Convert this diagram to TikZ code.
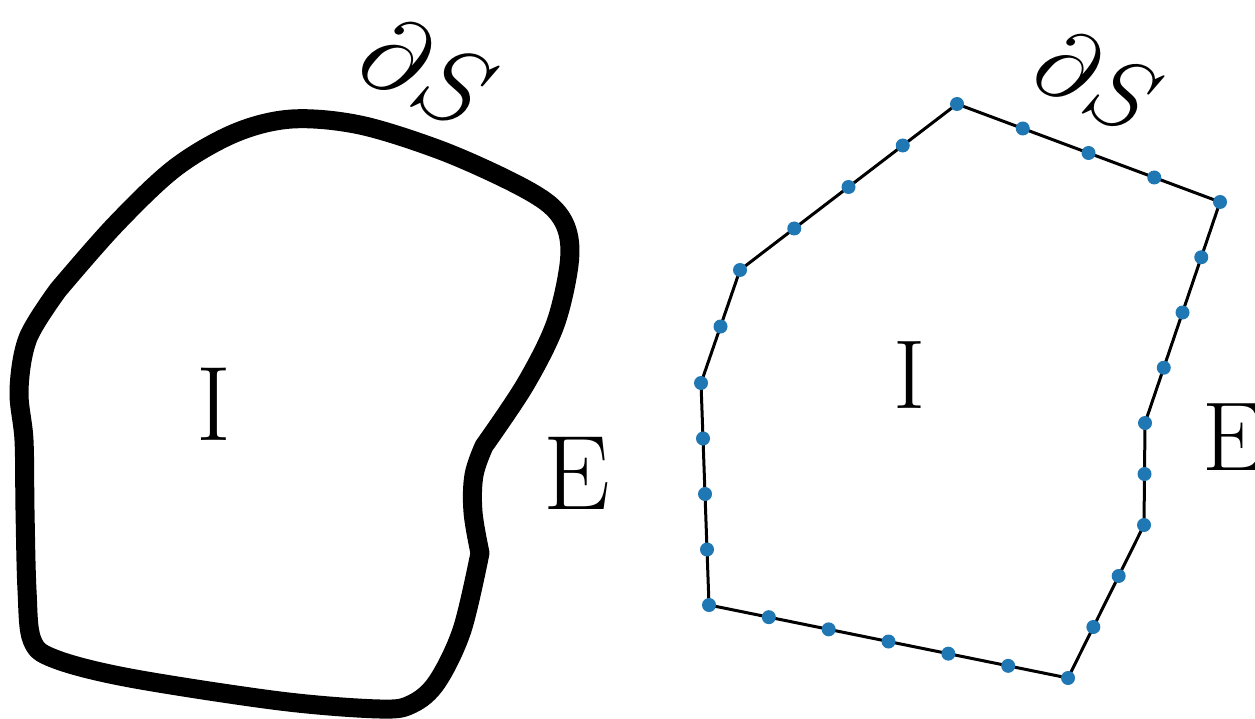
\documentclass[tikz,border=0pt]{standalone}
\usepackage{fix-cm}
\usetikzlibrary{calc}
\definecolor{dotblue}{HTML}{1F77B4}
\tikzset{
  blob/.style={line width=19pt, line join=round, line cap=round},
  poly/.style={line width=3pt, line join=round},
  sdot/.style={circle, fill=dotblue, inner sep=0pt, minimum size=14pt},
  bigtext/.style={inner sep=0pt, font=\fontsize{106}{106}\selectfont},
  midtext/.style={inner sep=0pt, font=\fontsize{98}{98}\selectfont}
}
\begin{document}
\begin{tikzpicture}[x=1pt,y=-1pt]
\useasboundingbox (0,0) rectangle (1255,719);
% left smooth boundary
\draw[blob]
  plot[smooth, tension=0.55] coordinates {(58,290) (115,225) (175,168) (235,133) (292,119) (360,125) (440,150) (510,181) (550,205) (567,230) (569,265) (555,325) (525,385) (484,446)}
  -- plot[smooth, tension=0.6] coordinates {(484,446) (474,475) (473,512) (480,553)}
  -- plot[smooth, tension=0.55] coordinates {(480,553) (462,630) (437,682) (412,704) (380,709) (280,701) (130,678) (55,659) (32,640) (27,590) (25,510) (24,440) (19,390) (28,338) (58,290)}
  -- cycle;
\node[bigtext] (lI) at (214,404) {I};
\node[bigtext] (lE) at (577,473) {E};
\node[bigtext, rotate=-27] (lS) at (428,72) {$\partial S$};

% right polygon
\coordinate (A) at (957,104);
\coordinate (B) at (1220,202);
\coordinate (C) at (1145,423);
\coordinate (D) at (1144,525);
\coordinate (E) at (1068,678);
\coordinate (F) at (709,605);
\coordinate (G) at (701,383);
\coordinate (H) at (740,270);
\draw[poly] (A) -- (B) -- (C) -- (D) -- (E) -- (F) -- (G) -- (H) -- cycle;
\foreach \P/\Q/\n in {A/B/4, B/C/4, C/D/2, D/E/3, E/F/6, F/G/4, G/H/2, H/A/4}{
  \pgfmathtruncatemacro{\m}{\n-1}
  \foreach \i in {0,...,\m}{
    \node[sdot] (d\P\i) at ($(\P)!\i/\n!(\Q)$) {};
  }
}
\node[midtext] (rI) at (910,375) {I};
\node[midtext] (rE) at (1233,437) {E};
\node[midtext, rotate=-27] (rS) at (1098,81) {$\partial S$};
\end{tikzpicture}
\end{document}
